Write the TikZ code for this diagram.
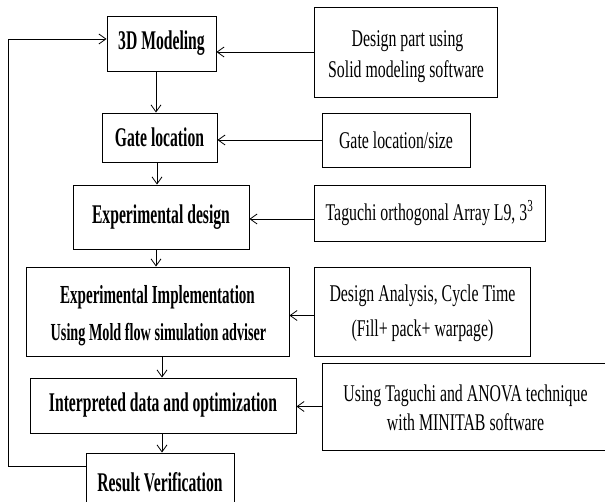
\documentclass[tikz,border=0pt]{standalone}
\usepackage{fontspec}
\setmainfont{Liberation Serif}
\newfontfamily\bcn[FakeStretch=0.58]{Liberation Serif}
\newfontfamily\rcn[FakeStretch=0.66]{Liberation Serif}
\usetikzlibrary{arrows.meta}
\begin{document}
\begin{tikzpicture}[x=1pt,y=-1pt,
  box/.style={draw, line width=0.9pt, inner sep=0pt, align=center},
  bt/.style={font=\bcn\bfseries\fontsize{27}{31}\selectfont},
  rt/.style={font=\rcn\fontsize{24}{28}\selectfont},
  ln/.style={anchor=base, inner sep=0pt},
  arr/.style={-{Straight Barb[length=7pt,width=10pt]}, line width=0.8pt}]
\useasboundingbox (0,0) rectangle (605,502);
\clip (0,0) rectangle (605,502);
% left column
\node[box,bt,minimum width=109pt,minimum height=55pt] (m3d) at (161.5,43.5) {3D Modeling};
\node[box,bt,minimum width=115pt,minimum height=49pt] (gate) at (159.5,137.5) {Gate location};
\node[box,bt,minimum width=176pt,minimum height=64pt] (exp) at (161,217) {Experimental design};
\node[box,minimum width=263pt,minimum height=89pt] (impl) at (157.5,311.5) {};
\node[ln,font=\bcn\bfseries\fontsize{26}{30}\selectfont] (impl1) at (157.5,304) {Experimental Implementation};
\node[ln,font=\bcn\bfseries\fontsize{24.5}{28}\selectfont] (impl2) at (158.5,341) {Using Mold flow simulation adviser};
\node[box,bt,minimum width=266pt,minimum height=55pt] (interp) at (163,405.5) {Interpreted data and optimization};
\node[box,bt,minimum width=148pt,minimum height=59pt] (res) at (160,482.5) {Result Verification};
% right column
\node[box,minimum width=183pt,minimum height=90pt] (dp) at (405.5,52) {};
\node[ln,rt] (dp1) at (407.5,47) {Design part using};
\node[ln,rt] (dp2) at (406,78) {Solid modeling software};
\node[box,rt,minimum width=148pt,minimum height=54pt] (gs) at (396,140) {Gate location/size};
\node[box,rt,minimum width=231pt,minimum height=56pt] (tag) at (429.5,213) {Taguchi orthogonal Array L9, 3\textsuperscript{3}};
\node[box,minimum width=216pt,minimum height=89pt] (da) at (422,311.5) {};
\node[ln,rt] (da1) at (422.5,302) {Design Analysis, Cycle Time};
\node[ln,rt] (da2) at (422.5,337) {(Fill+ pack+ warpage)};
\node[box,minimum width=290pt,minimum height=87pt] (ut) at (467,406.5) {};
\node[ln,rt] (ut1) at (465.5,402) {Using Taguchi and ANOVA technique};
\node[ln,rt] (ut2) at (465.5,430) {with MINITAB software};
% horizontal inputs
\draw[arr] (dp.west) -- (dp.west -| m3d.east);
\draw[arr] (gs.west) -- (gs.west -| gate.east);
\draw[arr] ([yshift=-6pt]tag.west) -- ([yshift=-6pt]tag.west -| exp.east);
\draw[arr] ([yshift=-4pt]da.west) -- ([yshift=-4pt]da.west -| impl.east);
\draw[arr] (ut.west) -- (ut.west -| interp.east);
% vertical flow
\draw[arr] ([xshift=-5.5pt]m3d.south) -- ([xshift=-5.5pt]m3d.south |- gate.north);
\draw[arr] ([xshift=-2.5pt]gate.south) -- ([xshift=-2.5pt]gate.south |- exp.north);
\draw[arr] ([xshift=-5pt]exp.south) -- ([xshift=-5pt]exp.south |- impl.north);
\draw[arr] ([xshift=4.5pt]impl.south) -- ([xshift=4.5pt]impl.south |- interp.north);
\draw[arr] ([xshift=-1pt]interp.south) -- ([xshift=-1pt]interp.south |- res.north);
% feedback loop
\coordinate (fl) at (8,39);
\draw[arr] ([yshift=16.5pt]res.west) -| (fl) -- (fl -| m3d.west);
\end{tikzpicture}
\end{document}
